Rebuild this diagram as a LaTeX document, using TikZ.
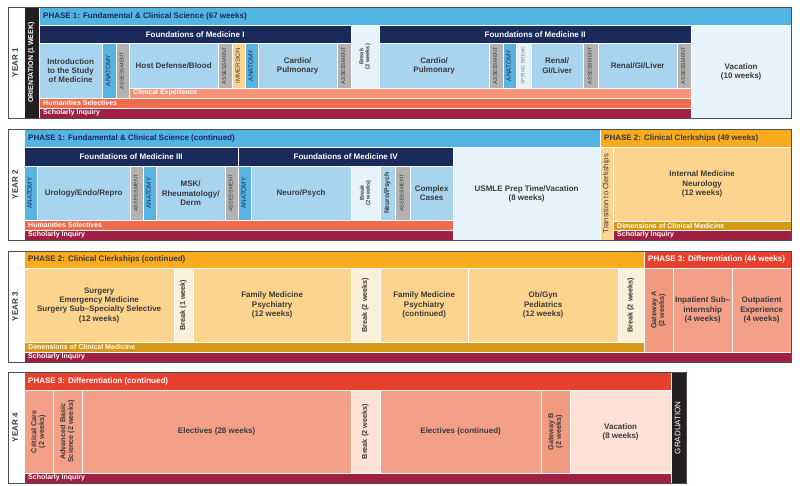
\documentclass[tikz,border=0pt]{standalone}
\usepackage{fontspec}
\setmainfont{Liberation Sans}
\definecolor{phone}{HTML}{52B4E3}
\definecolor{navy}{HTML}{1A2A5B}
\definecolor{cellblue}{HTML}{A8D4EF}
\definecolor{anat}{HTML}{58B3E1}
\definecolor{assess}{HTML}{B2B2B2}
\definecolor{immers}{HTML}{FDD592}
\definecolor{brkblue}{HTML}{E6F3FB}
\definecolor{clinexp}{HTML}{F4927A}
\definecolor{human}{HTML}{EF6B4D}
\definecolor{schol}{HTML}{A11F40}
\definecolor{phtwo}{HTML}{F8AB1D}
\definecolor{clerk}{HTML}{FDD48E}
\definecolor{brkcream}{HTML}{FDF0DA}
\definecolor{dimgold}{HTML}{D59817}
\definecolor{phthree}{HTML}{E8402F}
\definecolor{salmon}{HTML}{F4A088}
\definecolor{gate}{HTML}{F29A80}
\definecolor{vacpink}{HTML}{FDE1D5}
\definecolor{blackbar}{HTML}{231F20}
\definecolor{txt}{HTML}{3A3A3A}
\definecolor{boxline}{HTML}{4D4D4D}
\renewcommand{\arraystretch}{0.9}
\newcommand\vt[1]{\rotatebox{90}{\begin{tabular}{@{}c@{}}#1\end{tabular}}}
\newcommand\blk[7]{\node[cell,#2,anchor=north west,minimum width={#5pt-#3pt},minimum height={#6pt-#4pt}] (#1) at (#3,#4) {#7};}
\newcommand\band[8]{\blk{#1}{#2}{#3}{#4}{#5}{#6}{}\node[#7,anchor=west,inner sep=0pt] (#1-t) at ([xshift=4pt]#1.west) {#8};}
\tikzset{
  cell/.style={inner sep=0pt, draw=white, line width=0.3pt, align=center, text=txt,
    font=\bfseries\fontsize{8}{9.4}\selectfont},
  anatv/.style={font=\fontsize{6.4}{7}\selectfont, text=navy},
  assv/.style={font=\fontsize{5.4}{6}\selectfont},
  immv/.style={font=\fontsize{6.1}{7}\selectfont},
  sprv/.style={font=\fontsize{5}{6}\selectfont, text=gray},
  brkv/.style={font=\bfseries\fontsize{5.6}{6.6}\selectfont},
  vlab/.style={font=\bfseries\fontsize{7.3}{8.6}\selectfont},
  hdrtxt/.style={font=\bfseries\fontsize{8}{9}\selectfont},
  bandtxt/.style={font=\bfseries\fontsize{7}{8}\selectfont, text=white},
  yearbox/.style={draw=boxline, line width=0.8pt},
  yearlab/.style={fill=white, font=\bfseries\fontsize{8}{9}\selectfont, text=txt},
}
\begin{document}
\begin{tikzpicture}[x=1pt,y=-1pt]
\useasboundingbox[fill=white] (0,0) rectangle (800,486);
% ================= YEAR 1 =================
\blk{y1lab}{yearlab}{8}{7}{24}{118}{\vt{YEAR 1}}
\blk{orient}{fill=blackbar,text=white,font=\bfseries\fontsize{7}{8}\selectfont}{24}{7}{39}{118}{\vt{ORIENTATION (1 WEEK)}}
\band{ph1a}{fill=phone}{39}{7}{791}{25}{hdrtxt,text=navy}{PHASE 1: Fundamental \& Clinical Science (67 weeks)}
\blk{fm1}{fill=navy,text=white,hdrtxt}{39}{25}{351}{43}{Foundations of Medicine I}
\blk{brk1}{fill=brkblue,brkv}{351}{25}{379}{88}{\vt{Break\\(2 weeks)}}
\blk{fm2}{fill=navy,text=white,hdrtxt}{379}{25}{691}{43}{Foundations of Medicine II}
\blk{vac1}{fill=brkblue}{691}{25}{791}{118}{Vacation\\(10 weeks)}
\blk{intro}{fill=cellblue}{39}{43}{102}{98}{Introduction\\to the Study\\of Medicine}
\blk{an1}{fill=anat,anatv}{102}{43}{116}{98}{\vt{ANATOMY}}
\blk{as1}{fill=assess,assv}{116}{43}{129}{98}{\vt{ASSESSMENT}}
\blk{host}{fill=cellblue}{129}{43}{218}{88}{Host Defense/Blood}
\blk{as2}{fill=assess,assv}{218}{43}{232}{88}{\vt{ASSESSMENT}}
\blk{imm}{fill=immers,immv}{232}{43}{245}{88}{\vt{IMMERSION}}
\blk{an2}{fill=anat,anatv}{245}{43}{258}{88}{\vt{ANATOMY}}
\blk{cp1}{fill=cellblue}{258}{43}{337}{88}{Cardio/\\Pulmonary}
\blk{as3}{fill=assess,assv}{337}{43}{351}{88}{\vt{ASSESSMENT}}
\blk{cp2}{fill=cellblue}{379}{43}{489}{88}{Cardio/\\Pulmonary}
\blk{as4}{fill=assess,assv}{489}{43}{503}{88}{\vt{ASSESSMENT}}
\blk{an3}{fill=anat,anatv}{503}{43}{516}{88}{\vt{ANATOMY}}
\blk{spr}{fill=brkblue,sprv}{516}{43}{531}{88}{\vt{SPRING BREAK}}
\blk{rgl1}{fill=cellblue}{531}{43}{583}{88}{Renal/\\GI/Liver}
\blk{as5}{fill=assess,assv}{583}{43}{598}{88}{\vt{ASSESSMENT}}
\blk{rgl2}{fill=cellblue}{598}{43}{677}{88}{Renal/GI/Liver}
\blk{as6}{fill=assess,assv}{677}{43}{691}{88}{\vt{ASSESSMENT}}
\band{clin}{fill=clinexp}{129}{88}{691}{98}{bandtxt}{Clinical Experience}
\band{hum1}{fill=human}{39}{98}{691}{108}{bandtxt}{Humanities Selectives}
\band{sch1}{fill=schol}{39}{108}{691}{118}{bandtxt}{Scholarly Inquiry}
\draw[yearbox] (y1lab.north west) rectangle (vac1.south east);
% ================= YEAR 2 =================
\blk{y2lab}{yearlab}{8}{129}{24}{240}{\vt{YEAR 2}}
\band{ph1b}{fill=phone}{24}{129}{600}{147}{hdrtxt,text=navy}{PHASE 1: Fundamental \& Clinical Science (continued)}
\band{ph2a}{fill=phtwo}{600}{129}{791}{147}{hdrtxt,text=txt}{PHASE 2: Clinical Clerkships (49 weeks)}
\blk{fm3}{fill=navy,text=white,hdrtxt}{24}{147}{238}{166}{Foundations of Medicine III}
\blk{fm4}{fill=navy,text=white,hdrtxt}{238}{147}{453}{166}{Foundations of Medicine IV}
\blk{usmle}{fill=brkblue}{453}{147}{600}{240}{USMLE Prep Time/Vacation\\(8 weeks)}
\blk{an4}{fill=anat,anatv}{24}{166}{37}{220}{\vt{ANATOMY}}
\blk{uro}{fill=cellblue}{37}{166}{130}{220}{Urology/Endo/Repro}
\blk{as7}{fill=assess,assv}{130}{166}{143}{220}{\vt{ASSESSMENT}}
\blk{an5}{fill=anat,anatv}{143}{166}{156}{220}{\vt{ANATOMY}}
\blk{msk}{fill=cellblue}{156}{166}{225}{220}{MSK/\\Rheumatology/\\Derm}
\blk{as8}{fill=assess,assv}{225}{166}{238}{220}{\vt{ASSESSMENT}}
\blk{an6}{fill=anat,anatv}{238}{166}{251}{220}{\vt{ANATOMY}}
\blk{np1}{fill=cellblue}{251}{166}{351}{220}{Neuro/Psych}
\blk{brk2}{fill=brkblue,brkv}{351}{166}{380}{220}{\vt{Break\\(2 weeks)}}
\blk{np2}{fill=cellblue,font=\bfseries\fontsize{6.8}{8}\selectfont}{380}{166}{395}{220}{\vt{Neuro/Psych}}
\blk{as9}{fill=assess,assv}{395}{166}{410}{220}{\vt{ASSESSMENT}}
\blk{cc}{fill=cellblue}{410}{166}{453}{220}{Complex\\Cases}
\band{hum2}{fill=human}{24}{220}{453}{230}{bandtxt}{Humanities Selectives}
\band{sch2}{fill=schol}{24}{230}{453}{240}{bandtxt}{Scholarly Inquiry}
\blk{trans}{fill=clerk,font=\fontsize{7.6}{8}\selectfont}{600}{147}{613}{240}{\vt{Transition to Clerkships}}
\blk{im}{fill=clerk}{613}{147}{791}{221}{Internal Medicine\\Neurology\\(12 weeks)}
\band{dim1}{fill=dimgold}{613}{221}{791}{230}{bandtxt}{Dimensions of Clinical Medicine}
\band{sch3}{fill=schol}{613}{230}{791}{240}{bandtxt}{Scholarly Inquiry}
\draw[yearbox] (y2lab.north west) rectangle (sch3.south east);
% ================= YEAR 3 =================
\blk{y3lab}{yearlab}{8}{251}{24}{362}{\vt{YEAR 3}}
\band{ph2b}{fill=phtwo}{24}{251}{644}{268}{hdrtxt,text=txt}{PHASE 2: Clinical Clerkships (continued)}
\band{ph3a}{fill=phthree}{644}{251}{791}{268}{hdrtxt,text=white}{PHASE 3: Differentiation (44 weeks)}
\blk{surg}{fill=clerk}{24}{268}{174}{342}{Surgery\\Emergency Medicine\\Surgery Sub–Specialty Selective\\(12 weeks)}
\blk{brk3}{fill=brkcream,vlab}{174}{268}{193}{342}{\vt{Break (1 week)}}
\blk{fam1}{fill=clerk}{193}{268}{351}{342}{Family Medicine\\Psychiatry\\(12 weeks)}
\blk{brk4}{fill=brkcream,vlab}{351}{268}{380}{342}{\vt{Break (2 weeks)}}
\blk{fam2}{fill=clerk}{380}{268}{468}{342}{Family Medicine\\Psychiatry\\(continued)}
\blk{ob}{fill=clerk}{468}{268}{618}{342}{Ob/Gyn\\Pediatrics\\(12 weeks)}
\blk{brk5}{fill=brkcream,vlab}{618}{268}{644}{342}{\vt{Break (2 weeks)}}
\band{dim2}{fill=dimgold}{24}{342}{644}{352}{bandtxt}{Dimensions of Clinical Medicine}
\blk{gwA}{fill=gate,vlab}{644}{268}{673}{352}{\vt{Gateway A\\(2 weeks)}}
\blk{inp}{fill=salmon}{673}{268}{732}{352}{Inpatient Sub–\\internship\\(4 weeks)}
\blk{outp}{fill=salmon}{732}{268}{791}{352}{Outpatient\\Experience\\(4 weeks)}
\band{sch4}{fill=schol}{24}{352}{791}{362}{bandtxt}{Scholarly Inquiry}
\draw[yearbox] (y3lab.north west) rectangle (sch4.south east);
% ================= YEAR 4 =================
\blk{y4lab}{yearlab}{8}{372}{24}{483}{\vt{YEAR 4}}
\band{ph3b}{fill=phthree}{24}{372}{671}{390}{hdrtxt,text=white}{PHASE 3: Differentiation (continued)}
\blk{grad}{fill=blackbar,text=white,font=\fontsize{8}{9}\selectfont}{671}{372}{686}{483}{\vt{GRADUATION}}
\blk{crit}{fill=salmon,vlab}{24}{390}{53}{473}{\vt{Critical Care\\(2 weeks)}}
\blk{abs}{fill=salmon,vlab}{53}{390}{82}{473}{\vt{Advanced Basic\\Science (2 weeks)}}
\blk{el1}{fill=salmon}{82}{390}{351}{473}{Electives (28 weeks)}
\blk{brk6}{fill=vacpink,vlab}{351}{390}{380}{473}{\vt{Break (2 weeks)}}
\blk{el2}{fill=salmon}{380}{390}{541}{473}{Electives (continued)}
\blk{gwB}{fill=gate,vlab}{541}{390}{570}{473}{\vt{Gateway B\\(2 weeks)}}
\blk{vac2}{fill=vacpink}{570}{390}{671}{473}{Vacation\\(8 weeks)}
\band{sch5}{fill=schol}{24}{473}{671}{483}{bandtxt}{Scholarly Inquiry}
\draw[yearbox] (y4lab.north west) rectangle (grad.south east);
\end{tikzpicture}
\end{document}
